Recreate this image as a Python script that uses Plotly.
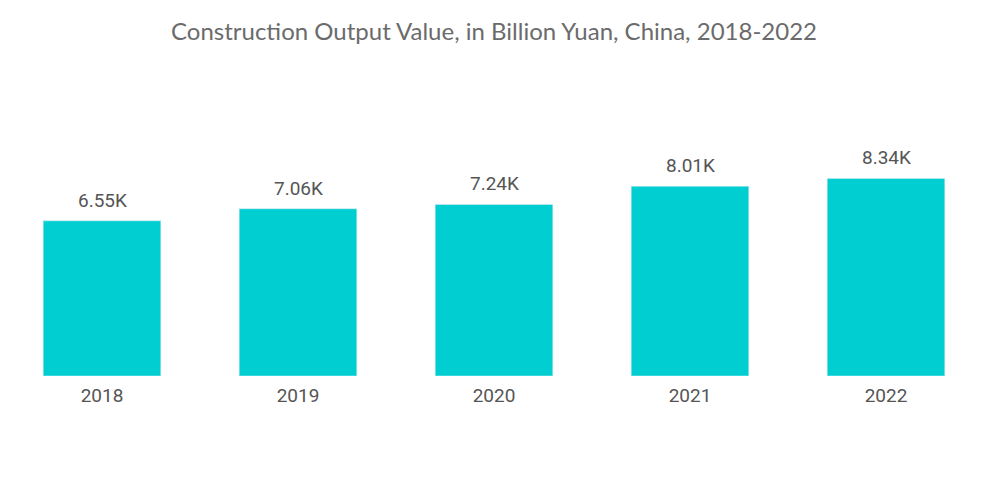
import plotly.graph_objects as go

years = ["2018", "2019", "2020", "2021", "2022"]
output_value = [6550, 7060, 7240, 8010, 8340]
value_labels = ["6.55K", "7.06K", "7.24K", "8.01K", "8.34K"]

fig = go.Figure(go.Bar(
    x=years,
    y=output_value,
    marker_color="#00CED1",
    cliponaxis=False,
))

# value labels above bars (x as category index)
for i, (val, lab) in enumerate(zip(output_value, value_labels)):
    fig.add_annotation(x=i, y=val, text=lab, showarrow=False,
                       xref="x", yref="y",
                       yanchor="bottom", yshift=7,
                       font=dict(size=19, color="#555555", family="Roboto"))

fig.update_layout(
    width=1000, height=504,
    title=dict(text="Construction Output Value, in Billion Yuan, China, 2018-2022",
               x=0.486, xanchor="center", y=0.954, yanchor="middle",
               font=dict(size=24, color="#6b6b6b", family="Lato")),
    margin=dict(l=0, r=20, t=92, b=136),
    plot_bgcolor="white", paper_bgcolor="white",
    bargap=0.4,
    showlegend=False,
)
fig.update_xaxes(type="category", showgrid=False, showline=False,
                 ticks="outside", ticklen=2,
                 tickcolor="rgba(0,0,0,0)", range=[-0.4796, 4.5204],
                 tickfont=dict(size=19, color="#555555", family="Roboto"))
fig.update_yaxes(visible=False, range=[0, 11650])

fig.write_html("out.html")
